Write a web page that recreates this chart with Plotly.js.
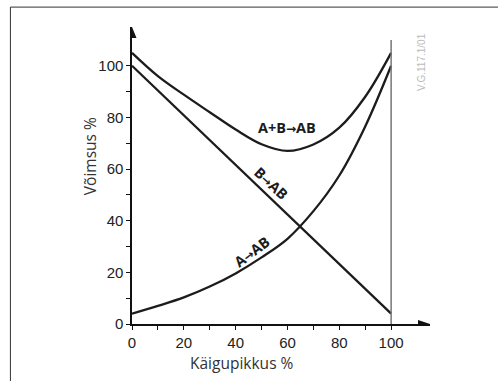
<!DOCTYPE html>
<html>
<head>
<meta charset="utf-8">
<script src="https://cdn.plot.ly/plotly-3.0.1.min.js"></script>
<style>html,body{margin:0;padding:0;background:#fff;}#chart{width:498px;height:381px;}</style>
</head>
<body>
<div id="chart"></div>
<script>
// Käigupikkus % (stroke)
const stroke = [0, 10, 20, 30, 40, 50, 60, 70, 80, 90, 100];
// Võimsus % curves
const powerAtoAB  = [4, 7, 10.3, 14.5, 19.6, 25.8, 33, 43.7, 57.5, 76.5, 100];
const powerBtoAB  = [100, 90.4, 80.8, 71.2, 61.6, 52, 42.4, 32.8, 23.2, 13.6, 4];
const powerABtoAB = [105, 96.0, 88.8, 82, 75.3, 69.6, 67, 69.5, 76, 88, 105];

const yTickVals = [0, 10, 20, 30, 40, 50, 60, 70, 80, 90, 100];
const yTickText = ['0', '', '20', '', '40', '', '60', '', '80', '', '100'];
const xTickVals = [0, 10, 20, 30, 40, 50, 60, 70, 80, 90, 100];
const xTickText = ['0', '', '20', '', '40', '', '60', '', '80', '', '100'];

const arrow = '<span style="font-family:DejaVu Sans;font-size:12px">\u2192</span>';
const curveLabels = ['A+B' + arrow + 'AB', 'B' + arrow + 'AB', 'A' + arrow + 'AB'];
const xTitle = 'Käigupikkus %';
const yTitle = 'Võimsus %';
const stamp = 'V.G.117.1/01';

const lineStyle = {color: '#1c1c1c', width: 2.3, shape: 'spline', smoothing: 1};
const traces = [
  {x: stroke, y: powerABtoAB, mode: 'lines', line: lineStyle, hoverinfo: 'skip'},
  {x: stroke, y: powerBtoAB, mode: 'lines', line: Object.assign({}, lineStyle, {shape: 'linear'}), hoverinfo: 'skip'},
  {x: stroke, y: powerAtoAB, mode: 'lines', line: lineStyle, hoverinfo: 'skip'}
];

const xMax = stroke[stroke.length - 1];
const labelFont = {family: 'Open Sans, Noto Sans, sans-serif', size: 14.5, color: '#1c1c1c', weight: 'bold'};
const titleFont = {family: 'Open Sans, Noto Sans, sans-serif', size: 15.5, color: '#333'};

const layout = {
  width: 498, height: 381,
  margin: {l: 131.7, r: 68, t: 27, b: 57, pad: 0},
  paper_bgcolor: '#fff', plot_bgcolor: '#fff',
  showlegend: false,
  xaxis: {
    range: [0, 115], showgrid: false, zeroline: false,
    showline: true, linecolor: '#111', linewidth: 1.6,
    tickmode: 'array', tickvals: xTickVals, ticktext: xTickText,
    ticks: 'outside', ticklen: 4, tickwidth: 1, tickcolor: '#111',
    tickfont: {family: 'Liberation Sans, Arial, sans-serif', size: 15, color: '#222'}
  },
  yaxis: {
    range: [0, 115], showgrid: false, zeroline: false,
    showline: true, linecolor: '#111', linewidth: 1.6,
    tickmode: 'array', tickvals: yTickVals, ticktext: yTickText,
    ticks: 'outside', ticklen: 4, tickwidth: 1, tickcolor: '#111',
    tickfont: {family: 'Liberation Sans, Arial, sans-serif', size: 15, color: '#222'}
  },
  shapes: [
    // vertical reference line at end of stroke
    {type: 'line', xref: 'x', yref: 'y', x0: xMax, x1: xMax, y0: 0, y1: 110,
     line: {color: '#777', width: 1.5}},
    // y-axis arrowhead
    {type: 'path', xref: 'x', yref: 'paper', xsizemode: 'pixel', ysizemode: 'pixel',
     xanchor: 0, yanchor: 1, path: 'M -4.5 -11 L 4.5 -11 L 0 0 Z',
     fillcolor: '#111', line: {width: 0}},
    // x-axis arrowhead
    {type: 'path', xref: 'paper', yref: 'y', xsizemode: 'pixel', ysizemode: 'pixel',
     xanchor: 1, yanchor: 0, path: 'M -12 -4 L -12 4 L 0 0 Z',
     fillcolor: '#111', line: {width: 0}},
    // frame (left and top)
    {type: 'path', xref: 'paper', yref: 'paper',
     path: 'M -0.408 -0.25 L -0.408 1.067 L 1.3 1.067',
     line: {color: '#333', width: 1}}
  ],
  annotations: [
    {text: curveLabels[0], x: 59.8, y: 76.2, xref: 'x', yref: 'y', showarrow: false, font: labelFont},
    {text: curveLabels[1], x: 53.8, y: 54.3, xref: 'x', yref: 'y', showarrow: false, font: labelFont, textangle: 43},
    {text: curveLabels[2], x: 46.4, y: 28, xref: 'x', yref: 'y', showarrow: false, font: labelFont, textangle: -37},
    {text: xTitle, x: 0.37, y: -0.086, xref: 'paper', yref: 'paper', xanchor: 'center', yanchor: 'top',
     showarrow: false, font: titleFont},
    {text: yTitle, x: -0.14, y: 0.566, xref: 'paper', yref: 'paper', xanchor: 'center', yanchor: 'middle',
     showarrow: false, font: titleFont, textangle: -90},
    {text: stamp, x: 111.5, y: 101.4, xref: 'x', yref: 'y', xanchor: 'center', yanchor: 'middle',
     showarrow: false, textangle: -90,
     font: {family: 'Liberation Sans, Arial, sans-serif', size: 10, color: '#bbb'}}
  ]
};

Plotly.newPlot('chart', traces, layout, {staticPlot: true, displayModeBar: false});
</script>
</body>
</html>
